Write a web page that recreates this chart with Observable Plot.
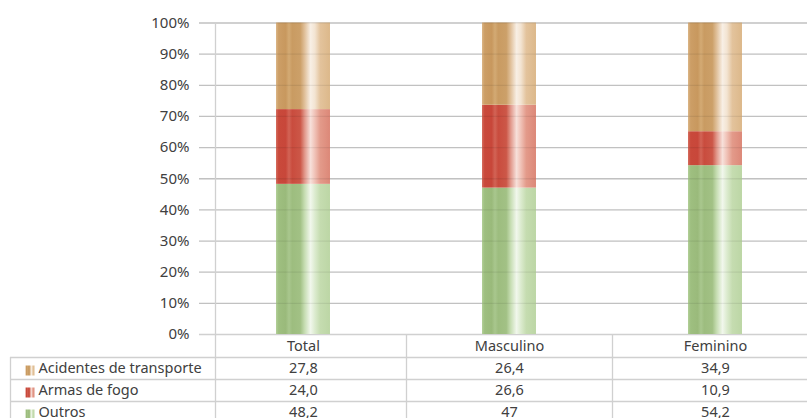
<!DOCTYPE html>
<html><head><meta charset="utf-8">
<script src="https://cdn.jsdelivr.net/npm/d3@7"></script>
<script src="https://cdn.jsdelivr.net/npm/@observablehq/plot@0.6"></script>
<style>
html,body{margin:0;padding:0;background:#fff;overflow:hidden}
#chart svg{display:block}
</style></head><body><div id="chart"></div>
<script>
// ---- data ----
const categories = ["Total", "Masculino", "Feminino"];
const series = ["Acidentes de transporte", "Armas de fogo", "Outros"];
const acidentes = [27.8, 26.4, 34.9];
const armas = [24.0, 26.6, 10.9];
const outros = [48.2, 47, 54.2];
const acidentesLabels = ["27,8", "26,4", "34,9"];
const armasLabels = ["24,0", "26,6", "10,9"];
const outrosLabels = ["48,2", "47", "54,2"];
const yTicks = [0, 10, 20, 30, 40, 50, 60, 70, 80, 90, 100];

// ---- styling ----
const gradIds = ["gAcid", "gArmas", "gOutros"];
const stopOffsets = [0, 0.05, 0.18, 0.24, 0.3, 0.45, 0.53, 0.64, 0.72, 0.82, 1];
const gradColors = [
  ["#dbb585","#cc9e66","#c8985e","#d3aa74","#c99b62","#cca069","#e0c09a","#f8efe5","#f3e4d2","#e3c39c","#dcb88a"],
  ["#d56b5c","#c9493b","#c8473a","#d26456","#c94c3e","#cc5748","#e1978a","#f7e0da","#f0c2b7","#e39a8a","#dc8878"],
  ["#b2cf97","#9ebf80","#9aba7b","#a9c78e","#9dbd7f","#a2c185","#c6ddb2","#f1f7ec","#dcebcf","#c5dcb0","#bcd6a5"]
];
const gridColor = "#d0d0d0";
const textColor = "#404040";
const font = "'Noto Sans', sans-serif";
const fs = 15;
const fsTable = 14.5;
const rowDy = [34, 56, 78];      // table row centres below the baseline
const lineDy = [23, 45, 67];     // table row separators below the baseline
const step = 206;

// ---- table rows for the stacked bars (bottom first) ----
const rows = [];
categories.forEach((c, i) => {
  rows.push({category: c, series: "Outros", value: outros[i], label: outrosLabels[i]});
  rows.push({category: c, series: "Armas de fogo", value: armas[i], label: armasLabels[i]});
  rows.push({category: c, series: "Acidentes de transporte", value: acidentes[i], label: acidentesLabels[i]});
});

const defsMark = () => {
  const ns = "http://www.w3.org/2000/svg";
  const defs = document.createElementNS(ns, "defs");
  gradIds.forEach((id, k) => {
    const g = document.createElementNS(ns, "linearGradient");
    g.setAttribute("id", id);
    g.setAttribute("x1", "0"); g.setAttribute("x2", "1");
    g.setAttribute("y1", "0"); g.setAttribute("y2", "0");
    stopOffsets.forEach((o, j) => {
      const s = document.createElementNS(ns, "stop");
      s.setAttribute("offset", o);
      s.setAttribute("stop-color", gradColors[k][j]);
      g.appendChild(s);
    });
    defs.appendChild(g);
  });
  return defs;
};

const rectSymbol = {draw(ctx) { ctx.rect(-4.5, -5, 9, 10); }};

const marks = [
  defsMark,
  Plot.ruleY(yTicks, {stroke: gridColor, strokeWidth: 1.3}),
  Plot.barY(rows, {x: "category", y: "value", fill: "series"}),
  Plot.ruleY(yTicks.slice(1), {stroke: "#000", strokeOpacity: 0.07, strokeWidth: 1.3}),
  // table grid
  ...lineDy.map(dy => Plot.ruleY([0], {dy, insetLeft: -189, stroke: gridColor, strokeWidth: 1.3})),
  Plot.ruleX(categories.slice(1), {x: d => d, dx: -step / 2, insetTop: 312, insetBottom: -90, stroke: gridColor, strokeWidth: 1.3}),
  Plot.ruleX([categories[0]], {x: d => d, dx: -88, insetBottom: -90, stroke: gridColor, strokeWidth: 1.3}),
  Plot.ruleX([categories[0]], {x: d => d, dx: -293, insetTop: 335, insetBottom: -90, stroke: gridColor, strokeWidth: 1.3}),
  // category header
  Plot.text(categories, {x: d => d, frameAnchor: "bottom", lineAnchor: "middle", dy: 12, fontSize: fsTable, fill: textColor}),
  // values
  ...series.map((s, k) => Plot.text(rows.filter(d => d.series === s), {x: "category", text: "label", frameAnchor: "bottom", lineAnchor: "middle", dy: rowDy[k], fontSize: fsTable, fill: textColor})),
  // row headers with keys
  ...series.map((s, k) => Plot.dot([s], {fill: d => d, symbol: rectSymbol, r: 5, frameAnchor: "bottom-left", dx: -169.5, dy: rowDy[k] + 2, stroke: null})),
  ...series.map((s, k) => Plot.text([s], {text: d => d, frameAnchor: "bottom-left", lineAnchor: "middle", textAnchor: "start", dx: -161, dy: rowDy[k], fontSize: fsTable, fill: textColor}))
];

const chart = Plot.plot({
  width: 807,
  height: 418,
  marginLeft: 199,
  marginRight: 0,
  marginTop: 22,
  marginBottom: 84,
  style: {fontFamily: font, fontSize: fs + "px", color: textColor, background: "#fff", overflow: "hidden"},
  x: {domain: categories, range: [200, 818], paddingInner: 0.738, paddingOuter: 0.369, round: false, axis: null},
  y: {domain: [0, 100], range: [334, 22.5], ticks: 10, tickSize: 0, tickPadding: 10, tickFormat: d => d + "%", label: null},
  color: {type: "ordinal", domain: series, range: gradIds.map(id => `url(#${id})`)},
  marks
});
document.getElementById("chart").appendChild(chart);
</script>
</body></html>
